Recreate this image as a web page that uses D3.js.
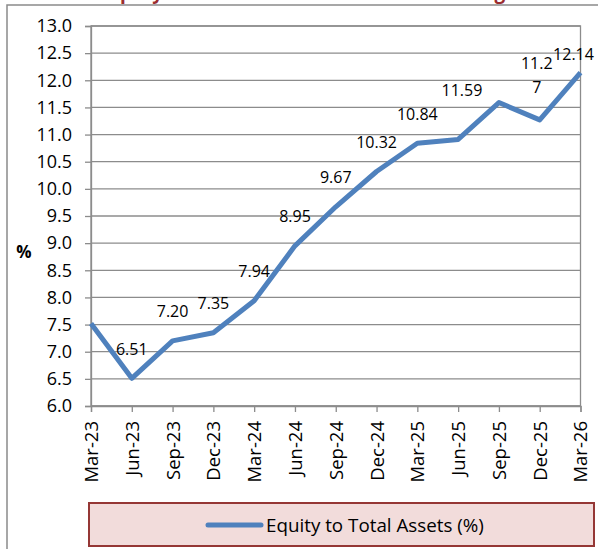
<!DOCTYPE html>
<html>
<head>
<meta charset="utf-8">
<script src="https://cdn.jsdelivr.net/npm/d3@7"></script>
<style>
  html, body { margin: 0; padding: 0; background: #fff; }
  svg { display: block; font-family: "Open Sans", Lato, sans-serif; }
</style>
</head>
<body>
<svg id="chart" width="598" height="549"></svg>
<script>
// Quarterly equity-to-total-assets ratio (%)
const quarters = ["Mar-23", "Jun-23", "Sep-23", "Dec-23", "Mar-24", "Jun-24", "Sep-24",
                  "Dec-24", "Mar-25", "Jun-25", "Sep-25", "Dec-25", "Mar-26"];
const equityRatio = [7.52, 6.51, 7.20, 7.35, 7.94, 8.95, 9.67, 10.32, 10.84, 10.91, 11.59, 11.27, 12.14];
// Quarters that carry a value label
const labelledQuarters = ["Jun-23", "Sep-23", "Dec-23", "Mar-24", "Jun-24", "Sep-24",
                          "Dec-24", "Mar-25", "Sep-25", "Dec-25", "Mar-26"];
const yTicks = [6.0, 6.5, 7.0, 7.5, 8.0, 8.5, 9.0, 9.5, 10.0, 10.5, 11.0, 11.5, 12.0, 12.5, 13.0];
const seriesName = "Equity to Total Assets (%)";
const chartTitle = "Equity to Total Assets Ratio of the Banking";

const svg = d3.select("#chart");
const plot = { left: 91, right: 580.5, top: 26, bottom: 406 };
const gridColor = "#8c8c8c";
const lineColor = "#4f81bd";

// Outer frame
svg.append("rect")
  .attr("x", 7).attr("y", 5).attr("width", 640).attr("height", 600)
  .attr("fill", "none").attr("stroke", "#8a8a8a").attr("stroke-width", 1.5);

// Title (runs off the top edge)
svg.append("text")
  .attr("x", 103).attr("y", -0.8)
  .attr("fill", "#9b2d30").attr("font-weight", "bold").attr("font-size", 19)
  .text(chartTitle);

const x = d3.scalePoint().domain(quarters).range([plot.left, plot.right]);
const y = d3.scaleLinear().domain([6, 13]).range([plot.bottom, plot.top]);

// Horizontal gridlines
svg.append("g").selectAll("line").data(yTicks).join("line")
  .attr("x1", plot.left).attr("x2", plot.right)
  .attr("y1", d => y(d)).attr("y2", d => y(d))
  .attr("stroke", gridColor).attr("stroke-width", 1.3);

// Plot border
svg.append("rect")
  .attr("x", plot.left).attr("y", plot.top)
  .attr("width", plot.right - plot.left).attr("height", plot.bottom - plot.top)
  .attr("fill", "none").attr("stroke", gridColor).attr("stroke-width", 1.3);

// Y axis
const yAxis = svg.append("g")
  .attr("transform", `translate(${plot.left},0)`)
  .call(d3.axisLeft(y).tickValues(yTicks).tickFormat(d3.format(".1f")).tickSize(6).tickPadding(13));
yAxis.select(".domain").attr("stroke", gridColor).attr("stroke-width", 1.3);
yAxis.selectAll(".tick line").attr("stroke", gridColor).attr("stroke-width", 1.3);
yAxis.selectAll(".tick text").attr("font-size", 18).attr("fill", "#000")
  .attr("font-family", "'Open Sans', sans-serif");

// X axis with vertical labels
const xAxis = svg.append("g")
  .attr("transform", `translate(0,${plot.bottom})`)
  .call(d3.axisBottom(x).tickSize(6).tickPadding(0));
xAxis.select(".domain").attr("stroke", gridColor).attr("stroke-width", 1.3);
xAxis.selectAll(".tick line").attr("stroke", gridColor).attr("stroke-width", 1.3);
xAxis.selectAll(".tick text")
  .attr("font-size", 18.5).attr("fill", "#000").attr("font-family", "'Open Sans', sans-serif")
  .attr("transform", "rotate(-90)")
  .attr("text-anchor", "end")
  .attr("x", -15).attr("y", 0).attr("dy", "0.35em");

// Y axis title
svg.append("text")
  .attr("x", 24).attr("y", 258)
  .attr("text-anchor", "middle").attr("font-weight", "bold").attr("font-size", 17)
  .text("%");

// Series line
const points = quarters.map((q, i) => ({ q, v: equityRatio[i] }));
svg.append("path")
  .datum(points)
  .attr("fill", "none").attr("stroke", lineColor).attr("stroke-width", 5)
  .attr("stroke-linejoin", "round")
  .attr("d", d3.line().x(d => x(d.q)).y(d => y(d.v)));

// Value labels: centred above each point, with a few nudged to avoid overlap
const labelNudge = {
  "Sep-25": { dx: -37, dy: -12 },
  "Dec-25": { dx: -3, dy: -33, wrap: 4 },
  "Mar-26": { dx: -7, dy: -18 }
};
const labels = svg.append("g").attr("font-size", 16).attr("fill", "#000")
  .attr("text-anchor", "middle");
points.filter(p => labelledQuarters.includes(p.q)).forEach(p => {
  const n = labelNudge[p.q] || { dx: 0, dy: -29 };
  const s = p.v.toFixed(2);
  const t = labels.append("text")
    .attr("x", x(p.q) + n.dx).attr("y", y(p.v) + n.dy).attr("dy", "0.35em");
  if (n.wrap) {
    // label wrapped onto two lines, last line sits at the nudge position
    t.append("tspan").attr("x", x(p.q) + n.dx).attr("dy", "-1.15em").text(s.slice(0, n.wrap));
    t.append("tspan").attr("x", x(p.q) + n.dx).attr("dy", "1.5em").text(s.slice(n.wrap));
  } else {
    t.text(s);
  }
});

// Legend
const legend = svg.append("g");
legend.append("rect")
  .attr("x", 89).attr("y", 503).attr("width", 505).attr("height", 43)
  .attr("fill", "#f2dcdb").attr("stroke", "#953735").attr("stroke-width", 2);
legend.append("line")
  .attr("x1", 208).attr("x2", 261).attr("y1", 525).attr("y2", 525)
  .attr("stroke", lineColor).attr("stroke-width", 5).attr("stroke-linecap", "round");
legend.append("text")
  .attr("x", 266).attr("y", 525).attr("dy", "0.35em")
  .attr("font-size", 18.8).attr("fill", "#000")
  .text(seriesName);
</script>
</body>
</html>
